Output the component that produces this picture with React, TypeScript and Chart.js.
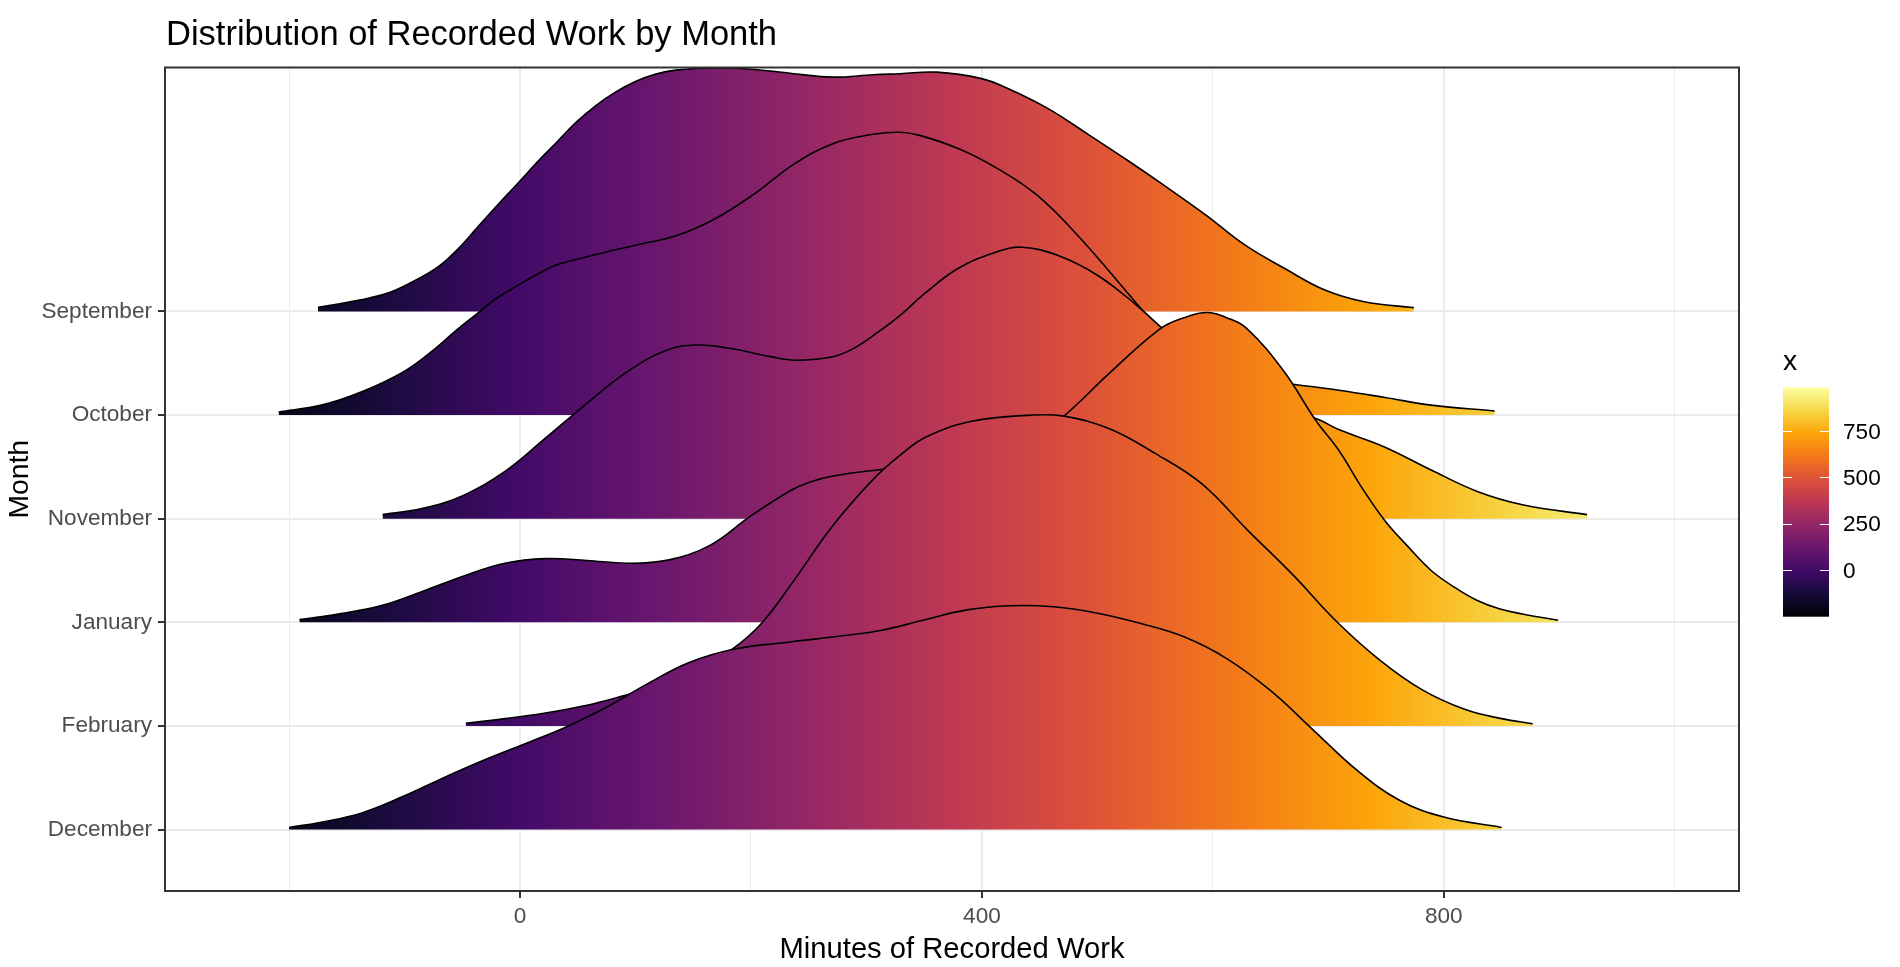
import { useEffect, useRef } from "react";
import { Chart, registerables } from "chart.js";

Chart.register(...registerables);

// Ridge rows, bottom to top (row level = index + 1)
const MONTHS = ["December", "February", "January", "November", "October", "September"];

// Density outlines: x in minutes, height in row units above the row baseline
const DEC_X = [-200, -172, -137, -101, -66, -31, 5, 40, 75, 111, 146, 185, 234, 287, 312, 349, 387, 424, 462, 499, 537, 575, 612, 650, 687, 725, 762, 800, 850];
const DEC_H = [0.02, 0.07, 0.16, 0.32, 0.5, 0.67, 0.83, 0.99, 1.18, 1.41, 1.61, 1.74, 1.81, 1.88, 1.92, 2.02, 2.12, 2.16, 2.15, 2.09, 1.99, 1.86, 1.65, 1.34, 0.96, 0.57, 0.28, 0.12, 0.02];

const FEB_X = [-47, -13, 22, 58, 93, 120, 150, 185, 210, 237, 270, 305, 330, 352, 391, 443, 471, 510, 550, 590, 630, 670, 706, 744, 781, 818, 850, 877];
const FEB_H = [0.025, 0.07, 0.125, 0.2, 0.3, 0.38, 0.52, 0.75, 1.0, 1.4, 1.92, 2.37, 2.62, 2.79, 2.94, 3.0, 2.99, 2.87, 2.63, 2.34, 1.89, 1.45, 1.02, 0.64, 0.35, 0.16, 0.07, 0.02];

const JAN_X = [-191, -155, -119, -84, -48, -13, 22, 58, 93, 128, 164, 199, 234, 250, 270, 316, 360, 400, 430, 450, 471, 510, 554, 575, 595, 612, 629, 661, 689, 709, 729, 749, 769, 789, 809, 829, 848, 868, 899];
const JAN_H = [0.026, 0.084, 0.164, 0.3, 0.45, 0.57, 0.615, 0.597, 0.57, 0.6, 0.74, 1.02, 1.27, 1.35, 1.41, 1.48, 1.54, 1.62, 1.71, 1.83, 1.99, 2.4, 2.83, 2.94, 2.99, 2.94, 2.84, 2.43, 1.95, 1.66, 1.3, 0.98, 0.73, 0.5, 0.34, 0.21, 0.13, 0.08, 0.02];

const NOV_X = [-119, -84, -48, -13, 22, 58, 93, 128, 153, 181, 217, 238, 270, 290, 310, 330, 350, 380, 414, 435, 466, 500, 534, 555, 600, 650, 693, 709, 749, 789, 829, 868, 924];
const NOV_H = [0.039, 0.1, 0.23, 0.456, 0.777, 1.114, 1.42, 1.63, 1.676, 1.645, 1.564, 1.53, 1.56, 1.65, 1.8, 1.97, 2.17, 2.42, 2.58, 2.62, 2.54, 2.35, 2.06, 1.85, 1.45, 1.14, 0.95, 0.86, 0.69, 0.47, 0.263, 0.135, 0.039];

const OCT_X = [-209, -172, -137, -101, -77, -55, -37, -20, -2, 15, 32, 66, 100, 135, 169, 203, 237, 271, 306, 329, 346, 380, 414, 448, 483, 517, 551, 580, 610, 640, 671, 709, 749, 789, 844];
const OCT_H = [0.03, 0.096, 0.225, 0.417, 0.61, 0.82, 0.98, 1.13, 1.25, 1.36, 1.45, 1.55, 1.64, 1.73, 1.895, 2.135, 2.42, 2.62, 2.71, 2.73, 2.7, 2.57, 2.376, 2.12, 1.734, 1.3, 0.867, 0.6, 0.43, 0.34, 0.295, 0.24, 0.17, 0.096, 0.039];

const SEP_X = [-175, -156, -139, -115, -95, -71, -54, -37, -20, -2, 15, 32, 49, 66, 83, 100, 117, 135, 169, 203, 237, 271, 306, 329, 361, 399, 423, 457, 491, 526, 560, 594, 628, 663, 697, 731, 774];
const SEP_H = [0.04, 0.075, 0.11, 0.175, 0.275, 0.43, 0.6, 0.81, 1.02, 1.235, 1.443, 1.636, 1.83, 1.99, 2.12, 2.22, 2.29, 2.33, 2.35, 2.336, 2.295, 2.262, 2.285, 2.295, 2.31, 2.25, 2.15, 1.96, 1.717, 1.46, 1.2, 0.93, 0.64, 0.41, 0.207, 0.094, 0.037];

const RIDGE_X = [DEC_X, FEB_X, JAN_X, NOV_X, OCT_X, SEP_X];
const RIDGE_H = [DEC_H, FEB_H, JAN_H, NOV_H, OCT_H, SEP_H];

// Axis ranges and ticks
const X_MIN = -307.4;
const X_MAX = 1055.6;
const Y_MIN = 0.4064;
const Y_MAX = 8.355;
const X_MAJOR_TICKS = [0, 400, 800];
const X_MINOR_GRID = [-200, 200, 600, 1000];

// Fill colour scale (inferno) and its legend
const FILL_MIN = -252;
const FILL_MAX = 986;
const LEGEND_TICKS = [0, 250, 500, 750];
const INFERNO = ["#000004", "#160b39", "#420a68", "#6a176e", "#932667", "#bc3754", "#dd513a", "#f37819", "#fca50a", "#f6d746", "#fcffa4"];

const FONT = '"Liberation Sans", Arial, Helvetica, sans-serif';

function makeGradient(ctx: CanvasRenderingContext2D, x0: number, y0: number, x1: number, y1: number) {
  const g = ctx.createLinearGradient(x0, y0, x1, y1);
  INFERNO.forEach((c, i) => g.addColorStop(i / (INFERNO.length - 1), c));
  return g;
}

const decorPlugin = {
  id: "decor",
  afterDraw(chart: any) {
    const { ctx, chartArea } = chart;
    ctx.save();

    // panel border
    ctx.strokeStyle = "#333333";
    ctx.lineWidth = 2;
    ctx.strokeRect(chartArea.left, chartArea.top, chartArea.right - chartArea.left, chartArea.bottom - chartArea.top);

    // plot title
    ctx.fillStyle = "#000000";
    ctx.font = `34.5px ${FONT}`;
    ctx.textAlign = "left";
    ctx.textBaseline = "alphabetic";
    ctx.fillText("Distribution of Recorded Work by Month", 166, 45);

    // colour bar legend
    const barL = 1783;
    const barR = 1829;
    const barTop = 387.3;
    const barBottom = 616.7;
    ctx.font = `28.3px ${FONT}`;
    ctx.fillText("x", 1783, 369.5);
    ctx.fillStyle = makeGradient(ctx, 0, barBottom, 0, barTop);
    ctx.fillRect(barL, barTop, barR - barL, barBottom - barTop);
    const yOf = (v: number) => barBottom - ((v - FILL_MIN) / (FILL_MAX - FILL_MIN)) * (barBottom - barTop);
    ctx.strokeStyle = "#ffffff";
    ctx.lineWidth = 1;
    ctx.font = `22.6px ${FONT}`;
    ctx.textBaseline = "middle";
    LEGEND_TICKS.forEach((v) => {
      const y = Math.round(yOf(v)) + 0.5;
      ctx.beginPath();
      ctx.moveTo(barL, y);
      ctx.lineTo(barL + 9, y);
      ctx.moveTo(barR - 9, y);
      ctx.lineTo(barR, y);
      ctx.stroke();
      ctx.fillStyle = "#000000";
      ctx.fillText(String(v), 1843, yOf(v) + 1.5);
    });
    ctx.restore();
  },
};

export default function App() {
  const ref = useRef<HTMLCanvasElement>(null);

  useEffect(() => {
    const canvas = ref.current;
    if (!canvas) return;
    Chart.defaults.font.family = FONT;

    const datasets = MONTHS.map((month, i) => {
      const level = i + 1;
      const xs = RIDGE_X[i];
      const hs = RIDGE_H[i];
      return {
        type: "line" as const,
        label: month,
        data: xs.map((x, k) => ({ x, y: level + hs[k] })),
        borderColor: "#000000",
        borderWidth: 1.6,
        borderJoinStyle: "round" as const,
        pointRadius: 0,
        pointHoverRadius: 0,
        tension: 0.4,
        fill: { value: level },
        backgroundColor: (c: any) => {
          const chart = c.chart;
          const xs2 = chart.scales && chart.scales.x;
          if (!xs2 || !chart.chartArea) return "rgba(0,0,0,0)";
          return makeGradient(chart.ctx, xs2.getPixelForValue(FILL_MIN), 0, xs2.getPixelForValue(FILL_MAX), 0);
        },
      };
    });

    const chart = new Chart(canvas, {
      type: "line",
      data: { datasets },
      options: {
        animation: false,
        responsive: false,
        devicePixelRatio: 1,
        layout: { padding: { top: 67.5, right: 161, bottom: 0, left: 0 } },
        plugins: {
          legend: { display: false },
          tooltip: { enabled: false },
          title: { display: false },
        },
        scales: {
          x: {
            type: "linear",
            min: X_MIN,
            max: X_MAX,
            bounds: "data",
            afterBuildTicks: (s: any) => {
              s.ticks = [...X_MINOR_GRID, ...X_MAJOR_TICKS].sort((a, b) => a - b).map((v) => ({ value: v }));
            },
            afterFit: (s: any) => {
              s.height = 76;
            },
            border: { display: false },
            grid: {
              color: "#EBEBEB",
              lineWidth: (c: any) => (X_MAJOR_TICKS.includes(c.tick?.value) ? 2 : 1),
              tickColor: (c: any) => (X_MAJOR_TICKS.includes(c.tick?.value) ? "#333333" : "rgba(0,0,0,0)"),
              tickLength: 7,
              tickWidth: 2,
            },
            ticks: {
              autoSkip: false,
              maxRotation: 0,
              padding: 5,
              color: "#4D4D4D",
              font: { size: 22.6, family: FONT },
              callback: (v: any) => (X_MAJOR_TICKS.includes(Number(v)) ? String(v) : ""),
            },
            title: {
              display: true,
              text: "Minutes of Recorded Work",
              color: "#000000",
              font: { size: 29.2, family: FONT },
              padding: { top: 0, bottom: 0 },
            },
          },
          y: {
            type: "linear",
            min: Y_MIN,
            max: Y_MAX,
            bounds: "data",
            afterBuildTicks: (s: any) => {
              s.ticks = MONTHS.map((_, i) => ({ value: i + 1 }));
            },
            afterFit: (s: any) => {
              s.width = 165;
            },
            border: { display: false },
            grid: {
              color: "#EBEBEB",
              lineWidth: 2,
              tickColor: "#333333",
              tickLength: 7,
              tickWidth: 2,
            },
            ticks: {
              autoSkip: false,
              padding: 6,
              color: "#4D4D4D",
              font: { size: 22.6, family: FONT },
              callback: (v: any) => MONTHS[Math.round(Number(v)) - 1] ?? "",
            },
            title: {
              display: true,
              text: "Month",
              color: "#000000",
              font: { size: 28.3, family: FONT },
              padding: { top: 3, bottom: 0 },
            },
          },
        },
      },
      plugins: [decorPlugin],
    } as any);

    return () => chart.destroy();
  }, []);

  return (
    <div style={{ position: "absolute", left: 0, top: 0, width: 1900, height: 967, background: "#ffffff" }}>
      <canvas ref={ref} width={1900} height={967} style={{ display: "block", width: 1900, height: 967 }} />
    </div>
  );
}
